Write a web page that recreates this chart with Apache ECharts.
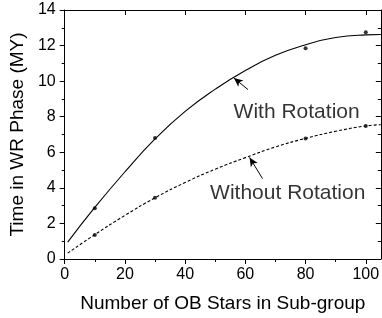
<!DOCTYPE html>
<html>
<head>
<meta charset="utf-8">
<script src="https://cdn.jsdelivr.net/npm/echarts@6/dist/echarts.min.js"></script>
<style>
html,body{margin:0;padding:0;background:#fff;}
#chart{width:382px;height:318px;}
</style>
</head>
<body>
<div id="chart"></div>
<script>
// fitted curves
var fitX = [1, 10, 20, 30, 40, 50, 60, 70, 80, 90, 100, 105];
var withFitY = [0.95, 2.9, 4.9, 6.75, 8.3, 9.55, 10.6, 11.45, 12.05, 12.45, 12.6, 12.62];
var withoutFitY = [0.33, 1.37, 2.45, 3.44, 4.3, 5.05, 5.7, 6.3, 6.78, 7.18, 7.48, 7.55];
// measured points
var ptX = [10, 30, 80, 100];
var withPtY = [2.85, 6.8, 11.85, 12.75];
var withoutPtY = [1.35, 3.45, 6.78, 7.48];
// tick labels
var xMajor = [0, 20, 40, 60, 80, 100];
var xMinor = [10, 30, 50, 70, 90];
// annotations: label text, label anchor, arrow tail, arrow head
var noteText = ['With Rotation', 'Without Rotation'];
var notePos = [[56.1, 8.23], [48.3, 3.72]];
var arrowFrom = [[60.9, 9.52], [65.7, 4.52]];
var arrowTo = [[56.2, 10.18], [61.4, 5.71]];

function pairs(xs, ys){
    var out = [];
    for(var i=0;i<xs.length;i++){ out.push([xs[i], ys[i]]); }
    return out;
}

var font = 'Liberation Sans, Arial, sans-serif';
var black = '#000';

var chart = echarts.init(document.getElementById('chart'));

var xBase = {
    type: 'value', min: 0, max: 105,
    axisLine: {show: true, onZero: false, lineStyle: {color: black, width: 1}},
    splitLine: {show: false}
};
var yBase = {
    type: 'value', min: 0, max: 14, interval: 2,
    axisLine: {show: true, onZero: false, lineStyle: {color: black, width: 1}},
    splitLine: {show: false},
    minorTick: {show: true, splitNumber: 2, length: 3, lineStyle: {color: black}}
};

var notes = [];
for(var i=0;i<noteText.length;i++){
    notes.push({name: noteText[i], value: notePos[i]});
}
var arrows = [];
for(var j=0;j<arrowFrom.length;j++){
    arrows.push([{coord: arrowFrom[j]}, {coord: arrowTo[j]}]);
}

chart.setOption({
    animation: false,
    grid: {left: 62, right: 1, top: 10, bottom: 56},
    xAxis: [
        Object.assign({}, xBase, {
            position: 'bottom',
            name: 'Number of OB Stars in Sub-group',
            nameLocation: 'middle', nameGap: 35,
            nameTextStyle: {fontFamily: font, fontSize: 19, color: black},
            axisTick: {show: true, inside: false, length: 5, customValues: xMajor, lineStyle: {color: black}},
            axisLabel: {show: true, customValues: xMajor, margin: 8, fontFamily: font, fontSize: 16, color: black}
        }),
        Object.assign({}, xBase, {
            position: 'bottom',
            axisLine: {show: false},
            axisTick: {show: true, inside: false, length: 3, customValues: xMinor, lineStyle: {color: black}},
            axisLabel: {show: false}
        }),
        Object.assign({}, xBase, {
            position: 'top',
            axisTick: {show: true, inside: true, length: 5, customValues: xMajor, lineStyle: {color: black}},
            axisLabel: {show: false}
        }),
        Object.assign({}, xBase, {
            position: 'top',
            axisLine: {show: false},
            axisTick: {show: true, inside: true, length: 3, customValues: xMinor, lineStyle: {color: black}},
            axisLabel: {show: false}
        })
    ],
    yAxis: [
        Object.assign({}, yBase, {
            position: 'left',
            name: 'Time in WR Phase (MY)',
            nameLocation: 'middle', nameGap: 31,
            nameTextStyle: {fontFamily: font, fontSize: 19, color: black},
            axisTick: {show: true, inside: false, length: 5, lineStyle: {color: black}},
            axisLabel: {show: true, margin: 9, fontFamily: font, fontSize: 16, color: black}
        }),
        Object.assign({}, yBase, {
            position: 'right',
            axisTick: {show: true, inside: true, length: 5, lineStyle: {color: black}},
            minorTick: {show: true, splitNumber: 2, length: 3, lineStyle: {color: black}},
            axisLabel: {show: false}
        })
    ],
    series: [
        {
            name: 'With Rotation fit', type: 'line', smooth: true,
            data: pairs(fitX, withFitY), showSymbol: false,
            lineStyle: {color: black, width: 1.1, type: 'solid'}
        },
        {
            name: 'Without Rotation fit', type: 'line', smooth: true,
            data: pairs(fitX, withoutFitY), showSymbol: false,
            lineStyle: {color: black, width: 1.1, type: [3, 2]}
        },
        {
            name: 'With Rotation', type: 'scatter', symbolSize: 4,
            data: pairs(ptX, withPtY), itemStyle: {color: black}
        },
        {
            name: 'Without Rotation', type: 'scatter', symbolSize: 4,
            data: pairs(ptX, withoutPtY), itemStyle: {color: black}
        },
        {
            name: 'notes', type: 'scatter', symbolSize: 0, data: notes,
            label: {
                show: true, position: 'right', distance: 0,
                formatter: '{b}', fontFamily: font, fontSize: 21, color: black
            },
            markLine: {
                silent: true, symbol: ['none', 'arrow'], symbolSize: [6, 9],
                label: {show: false},
                lineStyle: {color: black, width: 1, type: 'solid'},
                data: arrows
            }
        }
    ]
});
</script>
</body>
</html>
